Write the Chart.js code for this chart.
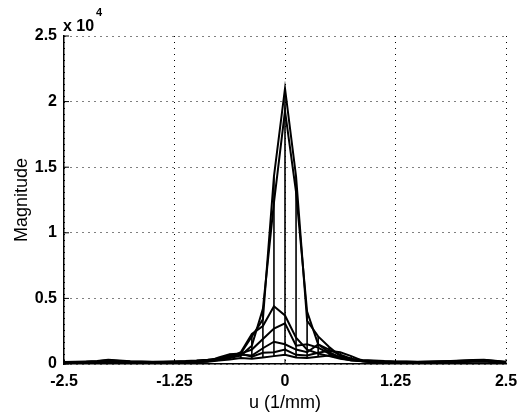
<!DOCTYPE html>
<html>
<head>
<meta charset="utf-8">
<script src="https://cdn.jsdelivr.net/npm/chart.js@4.4.0/dist/chart.umd.min.js"></script>
<style>
    html, body { margin: 0; padding: 0; background: #fff; }
    #wrap { width: 519px; height: 415px; }
</style>
</head>
<body>
<div id="wrap"><canvas id="myChart" width="519" height="415"></canvas></div>
<script>
// spatial frequency samples (1/mm)
const u = [-2.5, -2.375, -2.25, -2.125, -2, -1.875, -1.75, -1.625, -1.5, -1.375, -1.25, -1.125, -1, -0.875,
    -0.75, -0.625, -0.5, -0.375, -0.25, -0.125, 0, 0.125, 0.25, 0.375, 0.5, 0.625, 0.75,
    0.875, 1, 1.125, 1.25, 1.375, 1.5, 1.625, 1.75, 1.875, 2, 2.125, 2.25, 2.375, 2.5];

// magnitude profiles (one per mesh row)
const row1 = [150, 180, 200, 230, 320, 260, 210, 190, 170, 180, 200, 220, 260, 330,
    420, 520, 800, 2100, 3400, 14300, 21000, 14300, 3300, 2100, 1300, 600, 380,
    300, 260, 220, 200, 190, 180, 200, 210, 230, 260, 300, 330, 250, 180];
const row2 = [120, 150, 170, 210, 280, 230, 190, 170, 160, 170, 190, 200, 240, 300,
    380, 450, 650, 1400, 4200, 12300, 19300, 13100, 4000, 1500, 900, 500, 330,
    270, 230, 200, 180, 170, 160, 180, 190, 210, 240, 280, 300, 220, 150];
const row3 = [100, 130, 150, 180, 250, 200, 160, 150, 140, 150, 160, 180, 210, 260,
    330, 500, 900, 2300, 2900, 4400, 3700, 2000, 1100, 800, 600, 400, 280,
    230, 200, 170, 150, 140, 140, 150, 170, 190, 210, 250, 280, 200, 130];
const row4 = [90, 110, 130, 160, 220, 180, 150, 130, 120, 130, 150, 160, 190, 230,
    300, 600, 800, 1100, 1900, 2700, 3100, 1400, 1500, 1250, 800, 450, 260,
    210, 180, 150, 140, 130, 120, 140, 150, 170, 190, 230, 250, 180, 120];
const row5 = [80, 100, 120, 140, 200, 160, 130, 120, 110, 120, 130, 150, 170, 210,
    350, 700, 700, 650, 1200, 1700, 1500, 1100, 900, 1500, 1100, 700, 400,
    200, 160, 140, 130, 120, 110, 120, 140, 150, 170, 210, 230, 160, 100];
const row6 = [70, 90, 110, 130, 180, 150, 120, 110, 100, 110, 120, 140, 160, 200,
    500, 750, 800, 550, 850, 900, 1100, 700, 650, 850, 1000, 900, 600,
    250, 150, 130, 120, 110, 100, 110, 130, 140, 160, 190, 210, 150, 90];
const row7 = [60, 80, 100, 120, 160, 140, 110, 100, 90, 100, 110, 130, 150, 180,
    260, 350, 450, 400, 500, 600, 700, 500, 450, 550, 650, 500, 350,
    200, 140, 120, 110, 100, 90, 100, 120, 130, 150, 170, 190, 140, 80];

const rows = [row1, row2, row3, row4, row5, row6, row7];

const xTicks = [-2.5, -1.25, 0, 1.25, 2.5];
const yTicks = [0, 5000, 10000, 15000, 20000, 25000];

const FONT = 'Liberation Sans, Arial, Helvetica, sans-serif';

// profile lines
const datasets = rows.map(r => ({
    data: u.map((x, i) => ({x: x, y: r[i]})),
    showLine: true,
    borderColor: '#000',
    borderWidth: 2,
    pointRadius: 0,
    tension: 0
}));

// mesh column lines seen edge-on: a vertical stroke from min to max of every column
const columns = [];
u.forEach((x, i) => {
    const vals = rows.map(r => r[i]);
    columns.push({x: x, y: Math.min(...vals)});
    columns.push({x: x, y: Math.max(...vals)});
    columns.push({x: x, y: null});
});
datasets.push({
    data: columns,
    showLine: true,
    spanGaps: false,
    borderColor: '#000',
    borderWidth: 1.6,
    pointRadius: 0
});

// inward ticks on left / bottom axes and the "x 10^4" multiplier
const extras = {
    id: 'extras',
    afterDraw(chart) {
        const {ctx, chartArea, scales} = chart;
        ctx.save();
        ctx.strokeStyle = '#000';
        ctx.lineWidth = 1;
        ctx.beginPath();
        xTicks.forEach(v => {
            const px = scales.x.getPixelForValue(v);
            ctx.moveTo(px, chartArea.bottom);
            ctx.lineTo(px, chartArea.bottom - 5);
        });
        yTicks.forEach(v => {
            const py = scales.y.getPixelForValue(v);
            ctx.moveTo(chartArea.left, py);
            ctx.lineTo(chartArea.left + 5, py);
        });
        ctx.stroke();

        ctx.fillStyle = '#000';
        ctx.textBaseline = 'alphabetic';
        ctx.textAlign = 'left';
        ctx.font = 'bold 16px ' + FONT;
        ctx.fillText('x 10', chartArea.left - 1, 31);
        ctx.font = 'bold 11px ' + FONT;
        ctx.fillText('4', chartArea.left + 32, 16);
        ctx.restore();
    }
};

const ctx = document.getElementById('myChart').getContext('2d');
new Chart(ctx, {
    type: 'scatter',
    data: {datasets: datasets},
    options: {
        responsive: false,
        animation: false,
        devicePixelRatio: 1,
        layout: {padding: {top: 36, right: 13, left: 0, bottom: 0}},
        plugins: {
            legend: {display: false},
            tooltip: {enabled: false}
        },
        scales: {
            x: {
                type: 'linear',
                min: -2.5,
                max: 2.5,
                afterBuildTicks: s => { s.ticks = xTicks.map(v => ({value: v})); },
                afterFit: s => { s.height = 51; s.paddingLeft = 0; s.paddingRight = 0; },
                ticks: {
                    color: '#000',
                    font: {family: FONT, size: 16, weight: 'bold'},
                    padding: 8,
                    maxRotation: 0,
                    autoSkip: false,
                    callback: v => String(v)
                },
                grid: {color: '#000', lineWidth: 1, drawTicks: false},
                border: {display: true, color: '#000', width: 1.5, dash: [1, 5]},
                title: {
                    display: true,
                    text: 'u (1/mm)',
                    color: '#000',
                    font: {family: FONT, size: 18},
                    padding: {top: 0, bottom: 1}
                }
            },
            y: {
                type: 'linear',
                min: 0,
                max: 25000,
                afterBuildTicks: s => { s.ticks = yTicks.map(v => ({value: v})); },
                afterFit: s => { s.width = 64; s.paddingTop = 0; s.paddingBottom = 0; },
                ticks: {
                    color: '#000',
                    font: {family: FONT, size: 16, weight: 'bold'},
                    padding: 7,
                    callback: v => String(v / 10000)
                },
                grid: {color: '#000', lineWidth: 1, drawTicks: false},
                border: {display: true, color: '#000', width: 1.5, dash: [1, 5]},
                title: {
                    display: true,
                    text: 'Magnitude',
                    color: '#000',
                    font: {family: FONT, size: 18},
                    padding: {top: 11, bottom: 11}
                }
            }
        }
    },
    plugins: [extras]
});
</script>
</body>
</html>
